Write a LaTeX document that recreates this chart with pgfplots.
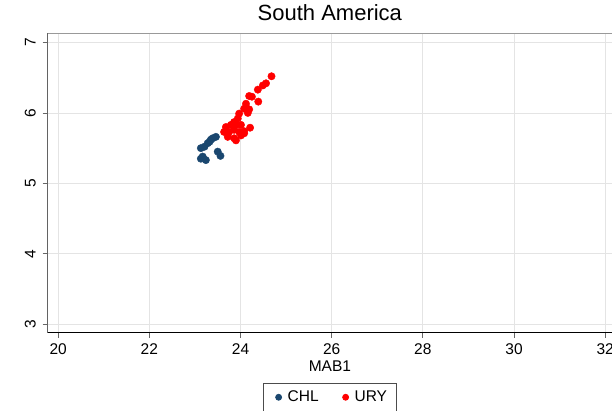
\documentclass[border=0pt]{standalone}
\usepackage{pgfplots}
\pgfplotsset{compat=1.18}
\usepackage{fontspec}
\setmainfont{Liberation Sans}
\definecolor{stblue}{RGB}{26,71,111}
\definecolor{gridgray}{RGB}{228,228,228}
\begin{document}
\begin{tikzpicture}[x=1pt,y=1pt]
\begin{axis}[
  name=ax,
  scale only axis,
  width=564.3pt, height=299.4pt,
  xmin=19.77, xmax=32.15, ymin=2.88, ymax=7.13,
  xtick={20,22,...,32}, ytick={3,4,5,6,7},
  grid=major,
  major grid style={gridgray, line width=0.8pt},
  axis line style={gray!80, line width=0.8pt},
  tick align=outside,
  major tick length=5pt,
  tick style={gray!80!black, line width=0.8pt},
  xtick pos=bottom, ytick pos=left,
  /pgf/number format/assume math mode=true,
  ticklabel style={font=\fontsize{15.5}{18}\selectfont},
  xticklabel style={anchor=base, yshift=-17pt},
  yticklabel style={rotate=90, anchor=base, yshift=7pt},
  xlabel={MAB1},
  xlabel style={at={(0.5,0)}, anchor=base, yshift=-39pt, font=\fontsize{15.5}{18}\selectfont},
  title={South America},
  title style={at={(0.5,1)}, anchor=base, yshift=6.6pt, font=\fontsize{22}{26}\selectfont},
  legend style={at={(0.5,-0.167)}, anchor=north, legend columns=2, draw=black!70, line width=0.8pt,
    font=\fontsize{15.5}{18}\selectfont, inner xsep=7pt, inner ysep=6pt,
    /tikz/every even column/.append style={column sep=17pt}},
  legend image code/.code={\fill (0pt,0pt) circle (3pt); \path[draw=none,fill=none] (-8pt,-3pt) rectangle (7pt,3pt);},
  legend cell align=left,
]
\addplot[only marks, mark=*, mark size=3.7pt, color=stblue] coordinates {
(23.46,5.66) (23.39,5.64) (23.32,5.59) (23.28,5.57) (23.35,5.62)
(23.21,5.52) (23.13,5.50) (23.50,5.45) (23.56,5.39) (23.17,5.38)
(23.24,5.33) (23.13,5.35)
};
\addlegendentry{CHL}
\addplot[only marks, mark=*, mark size=3.7pt, color=red] coordinates {
(24.68,6.52) (24.56,6.42) (24.49,6.39) (24.38,6.33) (24.19,6.24)
(24.25,6.23) (24.39,6.16) (24.12,6.13) (24.08,6.06) (24.19,6.05)
(23.97,5.99) (24.16,6.00) (23.94,5.92) (23.86,5.87) (23.68,5.80)
(23.79,5.83) (23.90,5.83) (24.01,5.83) (24.21,5.79) (23.64,5.73)
(23.75,5.73) (23.86,5.76) (23.97,5.73) (24.08,5.74) (23.72,5.66)
(23.86,5.64) (24.01,5.68) (24.08,5.71) (23.90,5.61)
};
\addlegendentry{URY}
\draw[black, line width=1.3pt] (rel axis cs:0,1) -- (rel axis cs:0,0) -- (rel axis cs:1,0);
\end{axis}
\pgfresetboundingbox
\useasboundingbox ([shift={(-47.7pt,-78.3pt)}]ax.south west) rectangle ([shift={(0pt,33.3pt)}]ax.north east);
\end{tikzpicture}
\end{document}
